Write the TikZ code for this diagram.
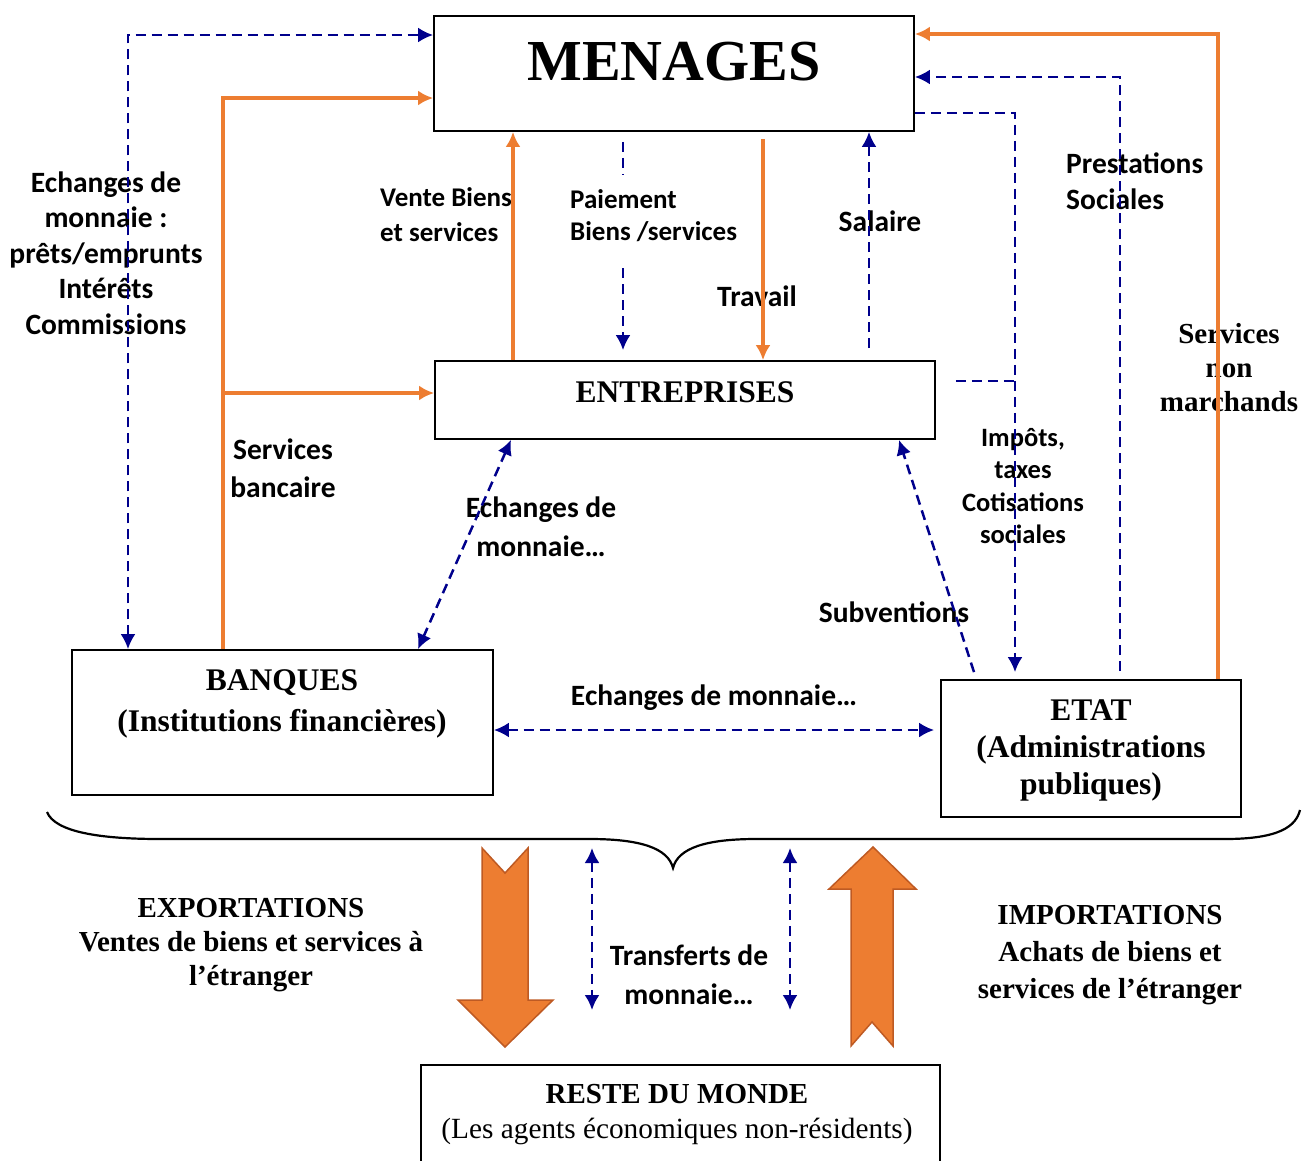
\documentclass[tikz,border=0pt]{standalone}
\usepackage{fontspec}
\setmainfont{Liberation Serif}
\newfontfamily\calfont{Carlito}
\usetikzlibrary{arrows.meta,calc}
\definecolor{navyb}{RGB}{0,0,140}
\definecolor{orng}{RGB}{237,125,49}
\definecolor{orngdark}{RGB}{190,90,35}
\begin{document}
\begin{tikzpicture}[x=1pt,y=-1pt,
  >={Latex[length=15pt,width=15pt]},
  box/.style={draw=black, line width=1.8pt, inner sep=0pt},
  bl/.style={draw=navyb, line width=2.5pt, dash pattern=on 10pt off 6pt},
  orl/.style={draw=orng, line width=3.5pt},
  lab/.style={font=\calfont\bfseries\fontsize{29.5}{#1}\selectfont, align=center, inner sep=1pt},
  lab/.default=36,
  slab/.style={font=\calfont\bfseries\fontsize{27}{#1}\selectfont, align=center, inner sep=1pt},
  slab/.default=35,
  tlab/.style={font=\bfseries\fontsize{29}{#1}\selectfont, align=center, inner sep=1pt},
  tlab/.default=34,
  btxt/.style={font=\bfseries\fontsize{31.5}{#1}\selectfont, align=center, inner sep=0pt},
  btxt/.default=40,
  bigarrow/.style={fill=orng, draw=orngdark, line width=1.5pt, line join=miter}
]
\useasboundingbox (0,0) rectangle (1311,1160);

% boxes
\node[box, minimum width=480pt, minimum height=115pt] (men) at (674,73.5) {};
\node[box, minimum width=500pt, minimum height=78pt] (ent) at (685,400) {};
\node[box, minimum width=421pt, minimum height=145pt] (ban) at (282.5,722.5) {};
\node[box, minimum width=300pt, minimum height=137pt] (etat) at (1091,748.5) {};
\node[box, minimum width=519pt, minimum height=110pt] (rdm) at (680.5,1120) {};

% box texts
\node[btxt, font=\bfseries\fontsize{58}{60}\selectfont] (tMen) at (674,62) {MENAGES};
\node[btxt] (tEnt) at (685,392) {ENTREPRISES};
\node[btxt=41] (tBan) at (282,704) {BANQUES\\(Institutions financières)};
\node[btxt=37] (tEtat) at (1091,750) {ETAT\\(Administrations\\publiques)};
\node[align=center, font=\fontsize{29.3}{35}\selectfont, inner sep=0pt] (tRdm) at (677,1115) {{\bfseries\fontsize{29}{35}\selectfont RESTE DU MONDE}\\(Les agents économiques non-résidents)};

% labels (drawn below the connectors)
\node[lab=35.5] (lEch) at (106,253) {Echanges de\\monnaie :\\prêts/emprunts\\Intérêts\\Commissions};
\node[slab=35, align=left, anchor=west] (lVente) at (379,215) {Vente Biens\\et services};
\node[lab] (lSal) at (880,221) {Salaire};
\node[lab] (lTrav) at (757,296) {Travail};
\node[lab, align=left, anchor=west] (lPrest) at (1065,181) {Prestations\\Sociales};
\node[tlab] (lSnm) at (1229,368) {Services\\non\\marchands};
\node[lab=38] (lSb) at (283,468) {Services\\bancaire};
\node[lab=39] (lEch2) at (541,527) {Echanges de\\monnaie…};
\node[slab=32.5, font=\calfont\bfseries\fontsize{26.5}{32.5}\selectfont] (lImp) at (1023,486) {Impôts,\\taxes\\Cotisations\\sociales};
\node[lab] (lSub) at (894,612) {Subventions};
\node[lab] (lEch3) at (714,698) {Echanges de monnaie…};
\node[lab=39] (lTr) at (689,975) {Transferts de\\monnaie…};
\node[tlab] (lExp) at (251,945) {EXPORTATIONS\\Ventes de biens et services à\\l’étranger};
\node[tlab=37] (lImpo) at (1110,955) {IMPORTATIONS\\Achats de biens et\\services de l’étranger};
\node[slab=32, align=left, anchor=west] (lPai) at (569,216) {Paiement\\Biens /services};

% connectors
\coordinate (Lb) at (128,35);
\draw[bl,<->] (ban.north -| Lb) -- (Lb) -- (men.west |- Lb);
\coordinate (Lo) at (223,98);
\draw[orl,->] (ban.north -| Lo) -- (Lo) -- (men.west |- Lo);
\coordinate (Lo2) at (223,393);
\draw[orl,->] (Lo2) -- (ent.west |- Lo2);

\coordinate (xv) at (513,0);
\draw[orl,->] (ent.north -| xv) -- (men.south -| xv);
\coordinate (xp) at (623,0);
\draw[bl] ($(men.south -| xp)+(0,10)$) -- ($(lPai.north -| xp)+(0,-14)$);
\draw[bl,->] ($(lPai.south -| xp)+(0,25)$) -- ($(ent.north -| xp)+(0,-10)$);
\coordinate (xt) at (763,0);
\draw[orl,->] ($(men.south -| xt)+(0,7)$) -- (ent.north -| xt);
\coordinate (xs) at (869,0);
\draw[bl,->] ($(ent.north -| xs)+(0,-12)$) -- (men.south -| xs);

\coordinate (Ro) at (1218,34);
\draw[orl,->] (etat.north -| Ro) -- (Ro) -- (men.east |- Ro);
\coordinate (Rb) at (1120,77);
\draw[bl,->] ($(etat.north -| Rb)+(0,-8)$) -- (Rb) -- (men.east |- Rb);
\coordinate (Ib) at (1015,113);
\draw[bl,->] (men.east |- Ib) -- (Ib) -- ($(etat.north -| Ib)+(0,-7)$);
\coordinate (Ie) at (1015,381);
\draw[bl] ($(ent.east |- Ie)+(20,0)$) -- (Ie);

\coordinate (e1) at (511,0);
\coordinate (e2) at (418,0);
\draw[bl,<->] (ent.south -| e1) -- (ban.north -| e2);
\coordinate (s1) at (974,0);
\coordinate (s2) at (899,0);
\draw[bl,->] ($(etat.north -| s1)+(0,-7)$) -- (ent.south -| s2);
\coordinate (be) at (0,730);
\draw[bl,<->] (ban.east |- be) -- ($(etat.west |- be)+(-6,0)$);

\coordinate (t1a) at (592,848);
\coordinate (t1b) at (592,1010);
\draw[bl,<->] (t1a) -- (t1b);
\coordinate (t2a) at (790,848);
\coordinate (t2b) at (790,1010);
\draw[bl,<->] (t2a) -- (t2b);

% brace
\draw[line width=2.2pt] (47,812) .. controls (55,832) and (100,839) .. (160,839) -- (590,839)
  .. controls (640,839) and (668,848) .. (673,868)
  .. controls (678,848) and (706,839) .. (756,839) -- (1225,839)
  .. controls (1280,839) and (1296,826) .. (1300,810);

% big arrows
\draw[bigarrow] (482,848) -- (505,873) -- (528,848) -- (528,1000) -- (553,1000) -- (505,1047) -- (458,1000) -- (482,1000) -- cycle;
\draw[bigarrow] (873,847) -- (916,889) -- (893,889) -- (893,1046) -- (872,1022) -- (851,1046) -- (851,889) -- (829,889) -- cycle;
\end{tikzpicture}
\end{document}
